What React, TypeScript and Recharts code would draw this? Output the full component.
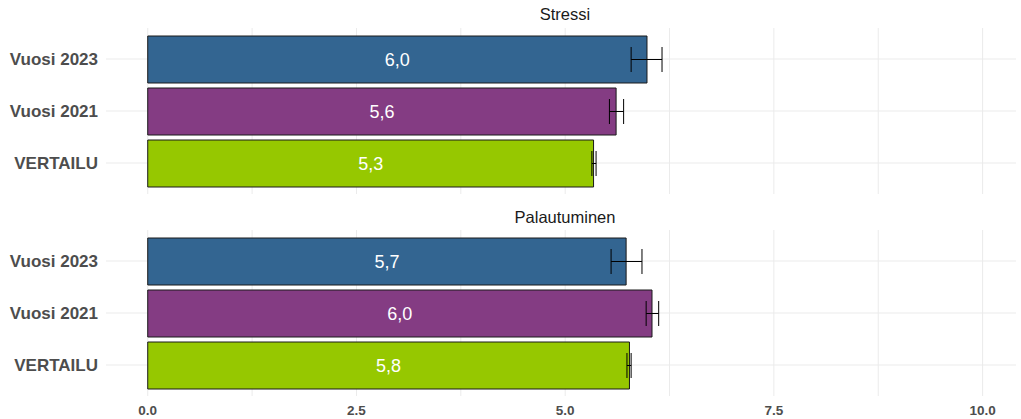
import { BarChart, Bar, XAxis, YAxis, CartesianGrid, ErrorBar, Cell, LabelList } from "recharts"

const categories = ["Vuosi 2023", "Vuosi 2021", "VERTAILU"]
const colors = ["#336591", "#843c83", "#96c800"]

const stressiValues = [5.98, 5.61, 5.34]
const stressiLow = [5.79, 5.53, 5.32]
const stressiHigh = [6.16, 5.7, 5.37]

const palautuminenValues = [5.73, 6.04, 5.77]
const palautuminenLow = [5.55, 5.97, 5.74]
const palautuminenHigh = [5.92, 6.12, 5.79]

const xTicks = [0, 1.25, 2.5, 3.75, 5, 6.25, 7.5, 8.75, 10]
const xLabels: Record<number, string> = { 0: "0.0", 2.5: "2.5", 5: "5.0", 7.5: "7.5", 10: "10.0" }

const makeRows = (values: number[], low: number[], high: number[]) =>
  categories.map((name, i) => ({
    name,
    value: values[i],
    err: [values[i] - low[i], high[i] - values[i]],
  }))

const fmt = (v: any) => Number(v).toFixed(1).replace(".", ",")

const FONT = "'Liberation Sans', Arial, sans-serif"

function Panel({ values, low, high, showAxis, height, top }: any) {
  const data = makeRows(values, low, high)
  return (
    <BarChart
      width={1021}
      height={height}
      data={data}
      layout="vertical"
      margin={{ top, right: 5, bottom: showAxis ? 3 : 6, left: 0 }}
      style={{ fontFamily: FONT }}
    >
      <CartesianGrid stroke="#ebebeb" strokeWidth={1} syncWithTicks />
      <XAxis
        type="number"
        domain={[-0.5, 10.4]}
        ticks={xTicks}
        allowDataOverflow
        hide={!showAxis}
        height={20}
        axisLine={false}
        tickLine={false}
        tickMargin={3}
        tickFormatter={(v: number) => xLabels[v] ?? ""}
        tick={{ fill: "#4d4d4d", fontSize: 13.5, fontWeight: "bold" }}
        interval={0}
      />
      <YAxis
        type="category"
        dataKey="name"
        width={106}
        axisLine={false}
        tickLine={false}
        padding={{ top: 5, bottom: 5 }}
        tick={{ fill: "#4d4d4d", fontSize: 17, fontWeight: "bold" }}
      />
      <Bar dataKey="value" barSize={47} stroke="#1a1a1a" strokeWidth={1} isAnimationActive={false}>
        {data.map((_, i) => (
          <Cell key={i} fill={colors[i]} />
        ))}
        <LabelList dataKey="value" position="center" fill="#ffffff" fontSize={18} formatter={fmt} />
        <ErrorBar dataKey="err" direction="x" width={12.5} stroke="#000000" strokeWidth={1} isAnimationActive={false} />
      </Bar>
    </BarChart>
  )
}

const titleStyle: React.CSSProperties = {
  position: "absolute",
  left: 106,
  width: 918,
  textAlign: "center",
  fontFamily: FONT,
  fontSize: 16.5,
  lineHeight: "19px",
  color: "#1a1a1a",
}

export default function App() {
  return (
    <div style={{ position: "absolute", left: 0, top: 0, width: 1021, height: 419, background: "#ffffff" }}>
      <div style={{ ...titleStyle, top: 5 }}>Stressi</div>
      <div style={{ position: "absolute", left: 0, top: 0 }}>
        <Panel values={stressiValues} low={stressiLow} high={stressiHigh} showAxis={false} height={200} top={28} />
      </div>
      <div style={{ ...titleStyle, top: 208 }}>Palautuminen</div>
      <div style={{ position: "absolute", left: 0, top: 200 }}>
        <Panel values={palautuminenValues} low={palautuminenLow} high={palautuminenHigh} showAxis={true} height={219} top={30} />
      </div>
    </div>
  )
}
